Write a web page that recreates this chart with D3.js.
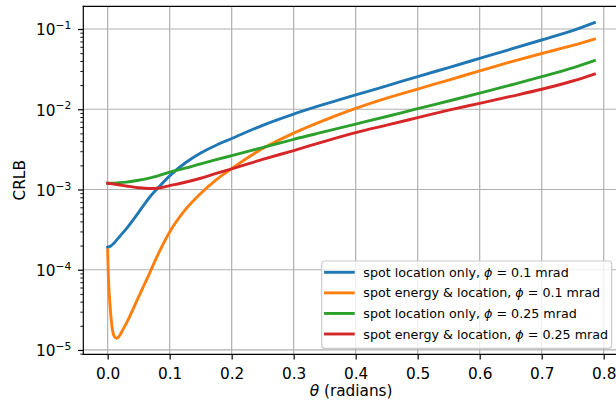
<!DOCTYPE html>
<html>
<head>
<meta charset="utf-8">
<script src="https://cdn.jsdelivr.net/npm/d3@7"></script>
<style>
  html, body { margin: 0; padding: 0; background: #fff; }
  svg { display: block; font-family: "DejaVu Sans", sans-serif; }
</style>
</head>
<body>
<svg id="chart" width="616" height="402"></svg>
<script>
// Scattering angle samples (radians)
const theta = [0, 0.005, 0.01, 0.015, 0.02, 0.03, 0.04, 0.05, 0.06, 0.07, 0.08, 0.1,
  0.125, 0.15, 0.175, 0.2, 0.25, 0.3, 0.35, 0.4, 0.45, 0.5, 0.55, 0.6, 0.65, 0.7, 0.75, 0.785];

// Denser sampling for the energy & location curve at phi = 0.1 mrad (sharp dip near zero)
const thetaEnergy01 = [0, 0.001, 0.002, 0.004, 0.006, 0.008, 0.011, 0.0145, 0.018, 0.025,
  0.033, 0.041, 0.049, 0.057, 0.065, 0.08, 0.1, 0.125, 0.15, 0.175, 0.2, 0.25, 0.3, 0.35,
  0.4, 0.45, 0.5, 0.55, 0.6, 0.65, 0.7, 0.75, 0.785];

// CRLB values
const locationOnly01 = [1.905e-4, 1.972e-4, 2.138e-4, 2.371e-4, 2.63e-4, 3.236e-4, 4.074e-4,
  5.188e-4, 6.683e-4, 8.414e-4, 1.023e-3, 1.479e-3, 2.138e-3, 2.851e-3, 3.565e-3, 4.315e-3,
  6.31e-3, 8.71e-3, 1.156e-2, 1.507e-2, 1.959e-2, 2.553e-2, 3.311e-2, 4.305e-2, 5.598e-2,
  7.295e-2, 9.55e-2, 0.1199];

const energyLocation01 = [1.762e-4, 9.12e-5, 6.026e-5, 3.467e-5, 2.291e-5, 1.738e-5, 1.462e-5,
  1.40e-5, 1.462e-5, 1.82e-5, 2.366e-5, 3.236e-5, 4.416e-5, 6.026e-5, 8.166e-5, 1.479e-4,
  2.951e-4, 5.559e-4, 8.913e-4, 1.318e-3, 1.82e-3, 3.236e-3, 5.047e-3, 7.328e-3, 1.023e-2,
  1.374e-2, 1.786e-2, 2.312e-2, 3.006e-2, 3.89e-2, 4.955e-2, 6.237e-2, 7.499e-2];

const locationOnly025 = [1.194e-3, 1.197e-3, 1.202e-3, 1.208e-3, 1.216e-3, 1.236e-3, 1.265e-3,
  1.303e-3, 1.349e-3, 1.406e-3, 1.469e-3, 1.641e-3, 1.841e-3, 2.089e-3, 2.355e-3, 2.642e-3,
  3.327e-3, 4.217e-3, 5.248e-3, 6.531e-3, 8.128e-3, 1.016e-2, 1.268e-2, 1.585e-2, 2.005e-2,
  2.547e-2, 3.273e-2, 4.027e-2];

const energyLocation025 = [1.194e-3, 1.183e-3, 1.169e-3, 1.153e-3, 1.138e-3, 1.107e-3, 1.076e-3,
  1.052e-3, 1.035e-3, 1.028e-3, 1.035e-3, 1.117e-3, 1.23e-3, 1.38e-3, 1.585e-3, 1.811e-3,
  2.371e-3, 3.055e-3, 3.981e-3, 5.105e-3, 6.339e-3, 7.852e-3, 9.727e-3, 1.186e-2, 1.445e-2,
  1.774e-2, 2.249e-2, 2.748e-2];

const seriesLabels = [
  ["spot location only, ", "0.1"],
  ["spot energy & location, ", "0.1"],
  ["spot location only, ", "0.25"],
  ["spot energy & location, ", "0.25"]
];
const seriesColors = ["#1f77b4", "#ff7f0e", "#2ca02c", "#d62728"];

const xTicks = [0, 0.1, 0.2, 0.3, 0.4, 0.5, 0.6, 0.7, 0.8];
const yExponents = [-5, -4, -3, -2, -1];

const series = [
  { x: theta, y: locationOnly01 },
  { x: thetaEnergy01, y: energyLocation01 },
  { x: theta, y: locationOnly025 },
  { x: theta, y: energyLocation025 }
];

// Plot frame
const frame = { left: 83.3, right: 619, top: 6.3, bottom: 354.3 };
const svg = d3.select("#chart");

const x = d3.scaleLinear().domain([-0.03927, 0.82467]).range([frame.left, frame.right]);
const y = d3.scaleLog().domain([Math.pow(10, -5.054), Math.pow(10, -0.717)])
  .range([frame.bottom, frame.top]);

const yMajor = yExponents.map(e => Math.pow(10, e));
const yMinor = [];
for (let e = -6; e <= 0; e++) {
  for (let m = 2; m <= 9; m++) {
    const v = m * Math.pow(10, e);
    if (v >= y.domain()[0] && v <= y.domain()[1]) yMinor.push(v);
  }
}

const fontSize = 15.3;
const gridColor = "#b0b0b0";
const majorTick = 5.3;
const minorTick = 3.0;

// Grid lines
const grid = svg.append("g");
grid.selectAll("line.gx").data(xTicks).join("line")
  .attr("x1", d => x(d)).attr("x2", d => x(d))
  .attr("y1", frame.top).attr("y2", frame.bottom)
  .attr("stroke", gridColor).attr("stroke-width", 1.2);
grid.selectAll("line.gy").data(yMajor).join("line")
  .attr("x1", frame.left).attr("x2", frame.right)
  .attr("y1", d => y(d)).attr("y2", d => y(d))
  .attr("stroke", gridColor).attr("stroke-width", 1.2);

// Curves
svg.append("clipPath").attr("id", "plotclip").append("rect")
  .attr("x", frame.left).attr("y", frame.top)
  .attr("width", frame.right - frame.left).attr("height", frame.bottom - frame.top);

const line = d3.line().curve(d3.curveMonotoneX);
svg.append("g").attr("clip-path", "url(#plotclip)")
  .selectAll("path").data(series).join("path")
  .attr("d", s => line(s.x.map((t, i) => [x(t), y(s.y[i])])))
  .attr("fill", "none")
  .attr("stroke", (s, i) => seriesColors[i])
  .attr("stroke-width", 2.9)
  .attr("stroke-linecap", "square")
  .attr("stroke-linejoin", "round");

// Axes
const xAxis = svg.append("g").attr("transform", `translate(0,${frame.bottom})`)
  .call(d3.axisBottom(x).tickValues(xTicks).tickFormat(d3.format(".1f"))
    .tickSize(majorTick).tickSizeOuter(0));
xAxis.select(".domain").remove();
xAxis.selectAll(".tick line").attr("stroke", "#000").attr("stroke-width", 1.2);
xAxis.selectAll(".tick text")
  .attr("y", 24.6).attr("dy", null)
  .attr("fill", "#000")
  .style("font-family", "DejaVu Sans").style("font-size", fontSize + "px");

const yAxis = svg.append("g").attr("transform", `translate(${frame.left},0)`)
  .call(d3.axisLeft(y).tickValues(yMajor).tickFormat(() => "")
    .tickSize(majorTick).tickSizeOuter(0));
yAxis.select(".domain").remove();
yAxis.selectAll(".tick line").attr("stroke", "#000").attr("stroke-width", 1.2);
yAxis.selectAll(".tick text").each(function (d) {
  const t = d3.select(this)
    .attr("x", -12).attr("dy", null).attr("y", 5.8)
    .attr("fill", "#000").attr("text-anchor", "end")
    .style("font-family", "DejaVu Sans").style("font-size", fontSize + "px");
  t.text(null);
  t.append("tspan").text("10");
  t.append("tspan").attr("dy", -6.2).style("font-size", "10.7px")
    .text("\u2212" + Math.round(-Math.log10(d)));
});

const yMinorAxis = svg.append("g").attr("transform", `translate(${frame.left},0)`)
  .call(d3.axisLeft(y).tickValues(yMinor).tickFormat(() => "")
    .tickSize(minorTick).tickSizeOuter(0));
yMinorAxis.select(".domain").remove();
yMinorAxis.selectAll(".tick line").attr("stroke", "#000").attr("stroke-width", 0.9);

// Spines
const spines = svg.append("g").attr("stroke", "#000").attr("stroke-width", 1.2)
  .attr("stroke-linecap", "square");
spines.append("line").attr("x1", frame.left).attr("x2", frame.left)
  .attr("y1", frame.top).attr("y2", frame.bottom);
spines.append("line").attr("x1", frame.left).attr("x2", frame.right)
  .attr("y1", frame.bottom).attr("y2", frame.bottom);
spines.append("line").attr("x1", frame.left).attr("x2", frame.right)
  .attr("y1", frame.top).attr("y2", frame.top);
spines.append("line").attr("x1", frame.right).attr("x2", frame.right)
  .attr("y1", frame.top).attr("y2", frame.bottom);

// Axis labels
const xLabel = svg.append("text")
  .attr("x", (frame.left + frame.right) / 2).attr("y", 396)
  .attr("text-anchor", "middle").style("font-size", fontSize + "px");
xLabel.append("tspan").style("font-style", "italic").text("\u03b8");
xLabel.append("tspan").text(" (radians)");

svg.append("text")
  .attr("transform", `translate(25,${(frame.top + frame.bottom) / 2}) rotate(-90)`)
  .attr("text-anchor", "middle").style("font-size", fontSize + "px")
  .text("CRLB");

// Legend
const legend = svg.append("g");
legend.append("rect")
  .attr("x", 321.7).attr("y", 261).attr("width", 290).attr("height", 87.3)
  .attr("rx", 3).attr("ry", 3)
  .attr("fill", "#fff").attr("fill-opacity", 0.8)
  .attr("stroke", "#cccccc").attr("stroke-width", 1.2);
const legendRowY = d3.scaleLinear().domain([0, 3]).range([272.3, 334]);
const rows = legend.selectAll("g.row").data(seriesLabels).join("g")
  .attr("transform", (d, i) => `translate(0,${legendRowY(i)})`);
rows.append("line")
  .attr("x1", 325.5).attr("x2", 353.3).attr("y1", 0).attr("y2", 0)
  .attr("stroke", (d, i) => seriesColors[i]).attr("stroke-width", 2.9)
  .attr("stroke-linecap", "square");
const rowText = rows.append("text")
  .attr("x", 363.3).attr("y", 4.6)
  .style("font-size", "12.7px");
rowText.append("tspan").text(d => d[0]);
rowText.append("tspan").style("font-style", "italic").text("\u03d5");
rowText.append("tspan").text(d => " = " + d[1] + " mrad");
</script>
</body>
</html>
